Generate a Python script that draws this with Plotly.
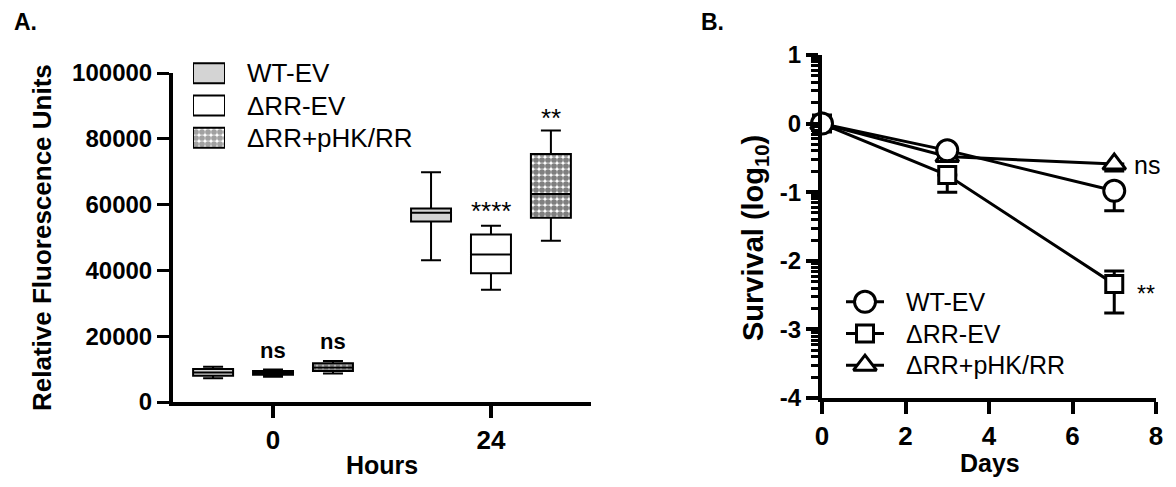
import numpy as np
import plotly.graph_objects as go

W, H = 1176, 487
PAD = 8            # browser body margin of the page written by write_html
FW, FH = W - PAD, H - 2 * PAD
FONT = "Liberation Sans, Arial, sans-serif"

# ---------------- Panel A data (box summaries) ----------------
hours = ["0", "24"]
groups = ["WT-EV", "ΔRR-EV", "ΔRR+pHK/RR"]
wt_min = [7200, 43100]
wt_q1 = [8000, 54900]
wt_med = [9000, 57500]
wt_q3 = [10000, 58800]
wt_max = [10700, 69800]
rr_min = [7700, 34100]
rr_q1 = [8300, 39100]
rr_med = [8900, 44800]
rr_q3 = [9400, 50900]
rr_max = [9900, 53600]
comp_min = [8700, 49000]
comp_q1 = [9400, 56000]
comp_med = [10500, 63200]
comp_q3 = [11800, 75400]
comp_max = [12500, 82500]
a_yticks = [0, 20000, 40000, 60000, 80000, 100000]

# ---------------- Panel B data (survival) ----------------
days = [0, 3, 7]
wt_surv = [0, -0.39, -0.98]
wt_err_plus = [0, 0, 0]
wt_err_minus = [0, 0, 0.29]
rr_surv = [0, -0.75, -2.34]
rr_err_plus = [0, 0, 0.19]
rr_err_minus = [0, 0.25, 0.42]
comp_surv = [0, -0.48, -0.59]
comp_err_plus = [0, 0, 0]
comp_err_minus = [0, 0.05, 0.1]
b_yticks = [1, 0, -1, -2, -3, -4]
b_xticks = [0, 2, 4, 6, 8]


def px(x):
    return (x - PAD) / FW


def py(y):
    return 1 - (y - PAD) / FH


fig = go.Figure()

PATTERN = dict(fgcolor="black", bgcolor="white", size=6, solidity=0.72)

# checkered fill for the complemented strain (drawn under the box outline)
fig.add_trace(go.Bar(
    x=hours, base=comp_q1, y=[b - a for a, b in zip(comp_q1, comp_q3)],
    width=0.1833, offset=0.1833,
    marker=dict(color="white", line=dict(width=0), pattern=dict(shape=".", **PATTERN)),
    showlegend=False, hoverinfo="skip", xaxis="x", yaxis="y"))

box_sets = [
    (groups[0], wt_min, wt_q1, wt_med, wt_q3, wt_max, "#d4d4d4"),
    (groups[1], rr_min, rr_q1, rr_med, rr_q3, rr_max, "white"),
    (groups[2], comp_min, comp_q1, comp_med, comp_q3, comp_max, "rgba(0,0,0,0)"),
]
for name, mn, q1, md, q3, mx, fc in box_sets:
    fig.add_trace(go.Box(
        x=hours, q1=q1, median=md, q3=q3, lowerfence=mn, upperfence=mx,
        name=name, orientation="v", fillcolor=fc,
        line=dict(color="black", width=2), whiskerwidth=0.5,
        boxpoints=False, showlegend=False, xaxis="x", yaxis="y"))

# Legend swatches for panel A (hidden axes)
fig.add_trace(go.Bar(
    y=[0, 1, 2], x=[1, 1, 1], base=0, orientation="h", width=0.62,
    marker=dict(color=["#d4d4d4", "white", "white"],
                line=dict(color="black", width=2),
                pattern=dict(shape=["", "", "."], **PATTERN)),
    showlegend=False, hoverinfo="skip", xaxis="x3", yaxis="y3"))

# Panel B lines
b_sets = [
    (groups[2], comp_surv, comp_err_plus, comp_err_minus, "triangle-up", 20, 2),
    (groups[1], rr_surv, rr_err_plus, rr_err_minus, "square", 17, 1),
    (groups[0], wt_surv, wt_err_plus, wt_err_minus, "circle", 21, 0),
]
for name, ys, ep, em, sym, size, row in b_sets:
    fig.add_trace(go.Scatter(
        x=days, y=ys, mode="lines+markers", name=name,
        line=dict(color="black", width=3),
        marker=dict(symbol=sym, size=size, color="white", line=dict(color="black", width=3)),
        error_y=dict(type="data", symmetric=False, array=ep, arrayminus=em,
                     color="black", thickness=3, width=10),
        cliponaxis=False, showlegend=False, xaxis="x2", yaxis="y2"))
    # legend swatch "-O-" for panel B (hidden axes)
    fig.add_trace(go.Scatter(
        x=[0, 1], y=[row, row], mode="lines", line=dict(color="black", width=3),
        cliponaxis=False, showlegend=False, hoverinfo="skip", xaxis="x4", yaxis="y4"))
    fig.add_trace(go.Scatter(
        x=[0.5], y=[row], mode="markers",
        marker=dict(symbol=sym, size=size, color="white", line=dict(color="black", width=3)),
        cliponaxis=False, showlegend=False, hoverinfo="skip", xaxis="x4", yaxis="y4"))

minor_b = [n + v for n in range(-4, 1) for v in np.log10(np.arange(2, 10))]

axis_common = dict(showgrid=False, zeroline=False, showline=True, linecolor="black",
                   linewidth=4, ticks="outside", tickcolor="black", automargin=False)
hidden = dict(visible=False, fixedrange=True)

fig.update_layout(
    width=FW, height=FH, margin=dict(l=0, r=0, t=0, b=0, autoexpand=False),
    paper_bgcolor="white", plot_bgcolor="rgba(0,0,0,0)",
    font=dict(family=FONT, color="black"),
    showlegend=False,
    boxmode="group", boxgap=0.175, boxgroupgap=0.333,
    xaxis=dict(domain=[px(173), px(591)], anchor="y", type="category",
               range=[-0.459, 1.459], ticklen=12, tickwidth=4,
               tickfont=dict(size=26, weight="bold"), **axis_common),
    yaxis=dict(domain=[py(402), py(73)], anchor="x", range=[0, 100000],
               tickvals=a_yticks, ticktext=[str(v) for v in a_yticks],
               ticklen=12, tickwidth=3,
               tickfont=dict(size=24, weight="bold"), **axis_common),
    xaxis2=dict(domain=[px(822), px(1156)], anchor="y2", range=[0, 8],
                tickvals=b_xticks, ticktext=[str(v) for v in b_xticks],
                ticklen=12, tickwidth=4,
                tickfont=dict(size=26, weight="bold"), **axis_common),
    yaxis2=dict(domain=[py(398), py(55)], anchor="x2", range=[-4, 1],
                tickvals=b_yticks, ticktext=[str(v) for v in b_yticks],
                ticklen=12, tickwidth=4,
                minor=dict(tickvals=minor_b, ticklen=7, tickwidth=2.5, tickcolor="black", ticks="outside"),
                tickfont=dict(size=24, weight="bold"), **axis_common),
    xaxis3=dict(domain=[px(193), px(225)], anchor="y3", range=[0, 1], **hidden),
    yaxis3=dict(domain=[py(154), py(57)], anchor="x3", range=[2.5, -0.5], **hidden),
    xaxis4=dict(domain=[px(846), px(884)], anchor="y4", range=[0, 1], **hidden),
    yaxis4=dict(domain=[py(381), py(286)], anchor="x4", range=[2.5, -0.5], **hidden),
)

ann = []


def add_text(text, x, y, size, bold=False, xref="paper", yref="paper", xanchor="center",
             yanchor="middle", angle=0):
    ann.append(dict(text=text, x=x, y=y, xref=xref, yref=yref, xanchor=xanchor,
                    yanchor=yanchor, textangle=angle, showarrow=False,
                    font=dict(size=size, family=FONT, color="black",
                              weight="bold" if bold else "normal")))


add_text("A.", px(12), py(22), 23, bold=True, xanchor="left")
add_text("B.", px(699), py(22), 23, bold=True, xanchor="left")
add_text("Relative Fluorescence Units", px(42), py(238), 26, bold=True, angle=-90)
add_text("Hours", px(382), py(465), 25, bold=True)
add_text("Days", px(990), py(463), 25, bold=True)
add_text("Survival (log<sub>10</sub>)", px(755), py(238), 29, bold=True, angle=-90)
for i, g in enumerate(groups):
    add_text(g, px(245), py(73 + 32.5 * i), 26, xanchor="left")
    add_text(g, px(904), py(302 + 31.6 * i), 25, xanchor="left")
# significance marks (panel A)
add_text("ns", 0, 15800, 22, bold=True, xref="x", yref="y")
add_text("ns", 0.275, 18500, 22, bold=True, xref="x", yref="y")
add_text("****", 1, 58200, 26, xref="x", yref="y")
add_text("**", 1.275, 86200, 26, xref="x", yref="y")
# significance marks (panel B)
add_text("ns", 7.42, -0.6, 25, xref="x2", yref="y2", xanchor="left")
add_text("**", 7.5, -2.49, 23, xref="x2", yref="y2", xanchor="left")

fig.update_layout(annotations=ann)
fig.write_html("out.html")
